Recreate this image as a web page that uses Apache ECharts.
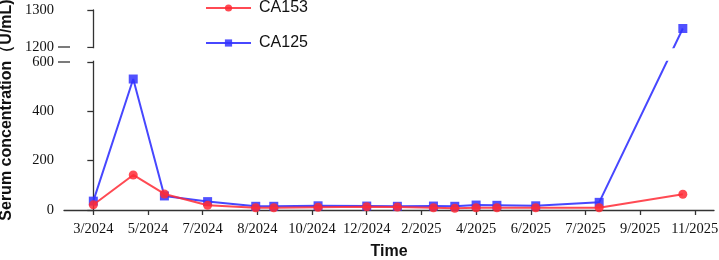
<!DOCTYPE html>
<html>
<head>
<meta charset="utf-8">
<script src="https://cdn.jsdelivr.net/npm/echarts@6/dist/echarts.min.js"></script>
<style>
html,body{margin:0;padding:0;background:#fff;}
#chart{width:719px;height:260px;}
</style>
</head>
<body>
<div id="chart"></div>
<script>
// ---- data ----
var xTickLabels = ['3/2024','5/2024','7/2024','8/2024','10/2024','12/2024','2/2025','4/2025','6/2025','7/2025','9/2025','11/2025'];
// x positions of sampling dates, in units of tick index
var xPos  = [0, 0.73, 1.30, 2.09, 2.97, 3.30, 4.11, 5.00, 5.56, 6.22, 6.61, 7.00, 7.38, 8.09, 9.25, 10.78];
var ca153 = [21, 142, 65, 19, 9, 9, 11, 13, 12, 9, 7, 9, 9, 9, 9, 64];
var ca125 = [36, 531, 57, 34, 15, 15, 17, 16, 15, 16, 15, 20, 19, 17, 31, 1250];
var yTickValues = [0, 200, 400, 600, 1200, 1300];

// ---- broken y axis: lower 0-600, upper 1200-1300 ----
var BREAK_LO = 600, BREAK_HI = 1200, GAP = 60.8, K = 1.5;
function ty(v){ return v <= BREAK_LO ? v : BREAK_LO + GAP + (v - BREAK_HI) * K; }
var yMax = ty(1300);
var yTickT = yTickValues.map(ty);

function pairs(ys){ return xPos.map(function(x,i){ return [x, ty(ys[i])]; }); }

var serif = 'Liberation Serif, Times New Roman, serif';
var sans = 'Liberation Sans, Arial, sans-serif';
var axisColor = '#333';
var X_MIN = -0.536, X_MAX = 11.35;

var chart = echarts.init(document.getElementById('chart'), null, {renderer:'canvas'});
var option = {
  animation:false,
  backgroundColor:'#fff',
  grid:{left:64, right:5, top:10, bottom:50, containLabel:false, outerBoundsMode:'none'},
  legend:{
    orient:'vertical', left:200, top:-5, itemWidth:45, itemHeight:9, itemGap:19,
    textStyle:{fontFamily:sans, fontSize:16, color:'#111', padding:[0,0,0,3]},
    data:['CA153','CA125']
  },
  xAxis:{
    type:'value', min:X_MIN, max:X_MAX,
    name:'Time', nameLocation:'middle', nameGap:34,
    nameTextStyle:{fontFamily:sans, fontSize:16, fontWeight:'bold', color:'#111'},
    axisLine:{show:true, onZero:false, lineStyle:{color:axisColor, width:1.3}},
    axisTick:{show:true, length:5, lineStyle:{color:axisColor, width:1.3}, customValues:xTickLabels.map(function(_,i){return i;})},
    axisLabel:{fontFamily:serif, fontSize:14.5, color:'#111', margin:12, hideOverlap:false,
      customValues:xTickLabels.map(function(_,i){return i;}),
      formatter:function(v){ var i=Math.round(v); return xTickLabels[i] || ''; }},
    splitLine:{show:false}
  },
  yAxis:{
    type:'value', min:0, max:yMax,
    name:'Serum concentration\uFF08U/mL)', nameLocation:'middle', nameGap:46,
    nameTextStyle:{fontFamily:sans, fontSize:16, fontWeight:'bold', color:'#111'},
    axisLine:{show:true, lineStyle:{color:axisColor, width:1.3}},
    axisTick:{show:true, length:6, lineStyle:{color:axisColor, width:1.3}, customValues:yTickT},
    axisLabel:{fontFamily:serif, fontSize:14.5, color:'#111', margin:10, hideOverlap:false,
      customValues:yTickT,
      formatter:function(v){
        for (var i=0;i<yTickT.length;i++){ if (Math.abs(yTickT[i]-v)<0.01) return String(yTickValues[i]); }
        return '';
      }},
    splitLine:{show:false}
  },
  series:[
    {name:'CA153', type:'line', z:4, symbol:'circle', symbolSize:9,
     data:pairs(ca153),
     lineStyle:{color:'#ff2a35', width:2, opacity:0.85},
     itemStyle:{color:'#ff2a35', opacity:0.85}},
    {name:'CA125', type:'line', z:3, symbol:'rect', symbolSize:9,
     data:pairs(ca125),
     lineStyle:{color:'#3333ff', width:2, opacity:0.9},
     itemStyle:{color:'#3333ff', opacity:0.85}}
  ]
};
chart.setOption(option);

// break gap overlay + break marks
var ax0 = chart.convertToPixel({gridIndex:0}, [X_MIN, 0]);
var pLo = chart.convertToPixel({gridIndex:0}, [X_MIN, ty(BREAK_LO)]);
var pHi = chart.convertToPixel({gridIndex:0}, [X_MIN, ty(BREAK_HI)]);
var pR  = chart.convertToPixel({gridIndex:0}, [X_MAX, 0]);
var axX = ax0[0];
chart.setOption({
  graphic:[
    {type:'rect', z:100, silent:true,
     shape:{x:axX-2, y:pHi[1]+1.2, width:pR[0]-axX+4, height:pLo[1]-pHi[1]-2.4},
     style:{fill:'#fff'}},
    {type:'line', z:101, silent:true, shape:{x1:axX-6, y1:pHi[1], x2:axX+6, y2:pHi[1]}, style:{stroke:axisColor, lineWidth:1.3}},
    {type:'line', z:101, silent:true, shape:{x1:axX-6, y1:pLo[1], x2:axX+6, y2:pLo[1]}, style:{stroke:axisColor, lineWidth:1.3}}
  ]
});
</script>
</body>
</html>
